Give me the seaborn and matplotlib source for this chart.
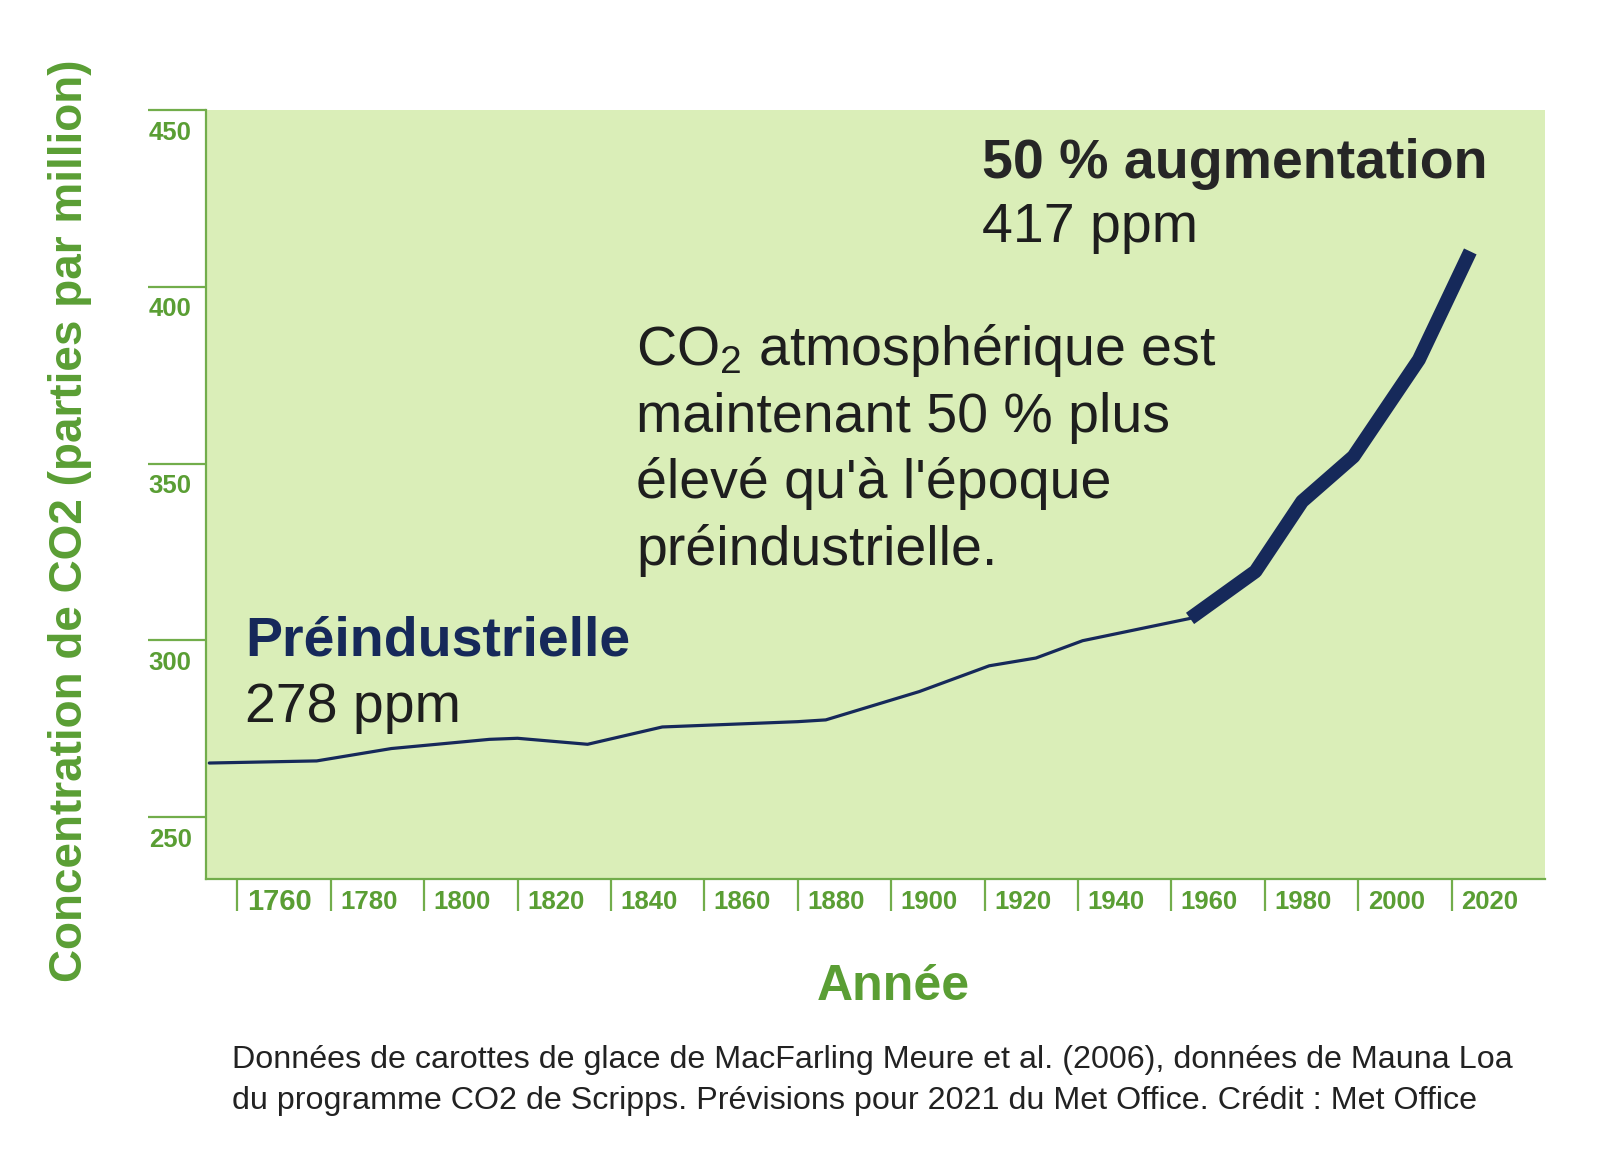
import matplotlib
matplotlib.use("Agg")
import matplotlib.pyplot as plt
import seaborn as sns
from matplotlib.transforms import ScaledTranslation

# données (ppm)
years_pre = [1754, 1777, 1793, 1814, 1820, 1835, 1851, 1880, 1886, 1906, 1921, 1931, 1941, 1964]
ppm_pre = [265.3, 265.9, 269.4, 272.0, 272.3, 270.6, 275.5, 277.0, 277.5, 285.5, 292.8, 295.0, 299.9, 306.2]
years_post = [1964, 1978, 1988, 1999, 2013, 2024]
ppm_post = [306.2, 319.5, 339.3, 352.0, 379.4, 410.0]

x_ticks = [1760, 1780, 1800, 1820, 1840, 1860, 1880, 1900, 1920, 1940, 1960, 1980, 2000, 2020]
y_ticks = [250, 300, 350, 400, 450]

green = "#5a9e34"
green_axis = "#72ad4b"
navy = "#16295a"
bg = "#daeeb8"

sns.set_theme(style="white")
plt.rcParams["font.family"] = ["Liberation Sans", "DejaVu Sans"]
plt.rcParams["mathtext.default"] = "regular"

W, H = 1600, 1176
fig = plt.figure(figsize=(W / 100, H / 100), dpi=100)


def fx(px):
    return px / W


def fy(py):
    return 1 - py / H


ax = fig.add_axes([fx(206), fy(879), (1545 - 206) / W, (879 - 110) / H])
ax.set_facecolor(bg)

sns.lineplot(x=years_pre, y=ppm_pre, ax=ax, color=navy, linewidth=2.3)
sns.lineplot(x=years_post, y=ppm_post, ax=ax, color=navy, linewidth=10,
             solid_capstyle="butt")

ax.set_xlim(1753.3, 2040)
ax.set_ylim(232.5, 450)

for s in ["top", "right"]:
    ax.spines[s].set_visible(False)
for s in ["left", "bottom"]:
    ax.spines[s].set_color(green_axis)
    ax.spines[s].set_linewidth(1.6)

ax.set_xticks(x_ticks)
ax.set_xticklabels([str(v) for v in x_ticks])
ax.set_yticks(y_ticks)
ax.set_yticklabels([str(v) for v in y_ticks])
ax.tick_params(axis="y", direction="out", length=42, width=1.6, color=green_axis,
               pad=0, labelsize=18.5, labelcolor=green, left=True)
ax.tick_params(axis="x", direction="out", length=23, width=1.6, color=green_axis,
               pad=0, labelsize=18.5, labelcolor=green, bottom=True)
ax.set_xlabel("")
ax.set_ylabel("")

# étiquettes décalées sous / à droite des traits de graduation
for lbl in ax.get_yticklabels():
    lbl.set_fontweight("bold")
    lbl.set_horizontalalignment("left")
    lbl.set_verticalalignment("top")
    lbl.set_transform(lbl.get_transform() + ScaledTranslation(0.01, -0.105, fig.dpi_scale_trans))
for i, lbl in enumerate(ax.get_xticklabels()):
    lbl.set_fontweight("bold")
    lbl.set_horizontalalignment("left")
    lbl.set_verticalalignment("center")
    if i == 0:
        lbl.set_fontsize(21)
    lbl.set_transform(lbl.get_transform() + ScaledTranslation(0.095, 0.085, fig.dpi_scale_trans))

# titres d'axes
fig.text(fx(82), fy(521), "Concentration de CO2 (parties par million)", rotation=90,
         rotation_mode="anchor", ha="center", va="baseline", fontsize=33,
         fontweight="bold", color=green)
fig.text(fx(893), fy(1000), "Année", ha="center", va="baseline", fontsize=36,
         fontweight="bold", color=green)

# annotations
fig.text(fx(982), fy(178), "50 % augmentation", ha="left", va="baseline", fontsize=40,
         fontweight="bold", color="#262626")
fig.text(fx(982), fy(242), "417 ppm", ha="left", va="baseline", fontsize=40,
         color="#1e1e1e")
fig.text(fx(245), fy(655), "Préindustrielle", ha="left", va="baseline", fontsize=40,
         fontweight="bold", color=navy)
fig.text(fx(245), fy(722), "278 ppm", ha="left", va="baseline", fontsize=40,
         color="#1e1e1e")

para = ["CO$_2$ atmosphérique est", "maintenant 50 % plus",
        "élevé qu'à l'époque", "préindustrielle."]
for i, line in enumerate(para):
    fig.text(fx(636), fy(365 + i * 66.7), line, ha="left", va="baseline", fontsize=40,
             color="#1e1e1e")

source = ["Données de carottes de glace de MacFarling Meure et al. (2006), données de Mauna Loa",
          "du programme CO2 de Scripps. Prévisions pour 2021 du Met Office. Crédit : Met Office"]
for i, line in enumerate(source):
    fig.text(fx(232), fy(1068 + i * 41), line, ha="left", va="baseline", fontsize=23.2,
             color="#222222")

fig.savefig("out.png", dpi=100, facecolor="white")
